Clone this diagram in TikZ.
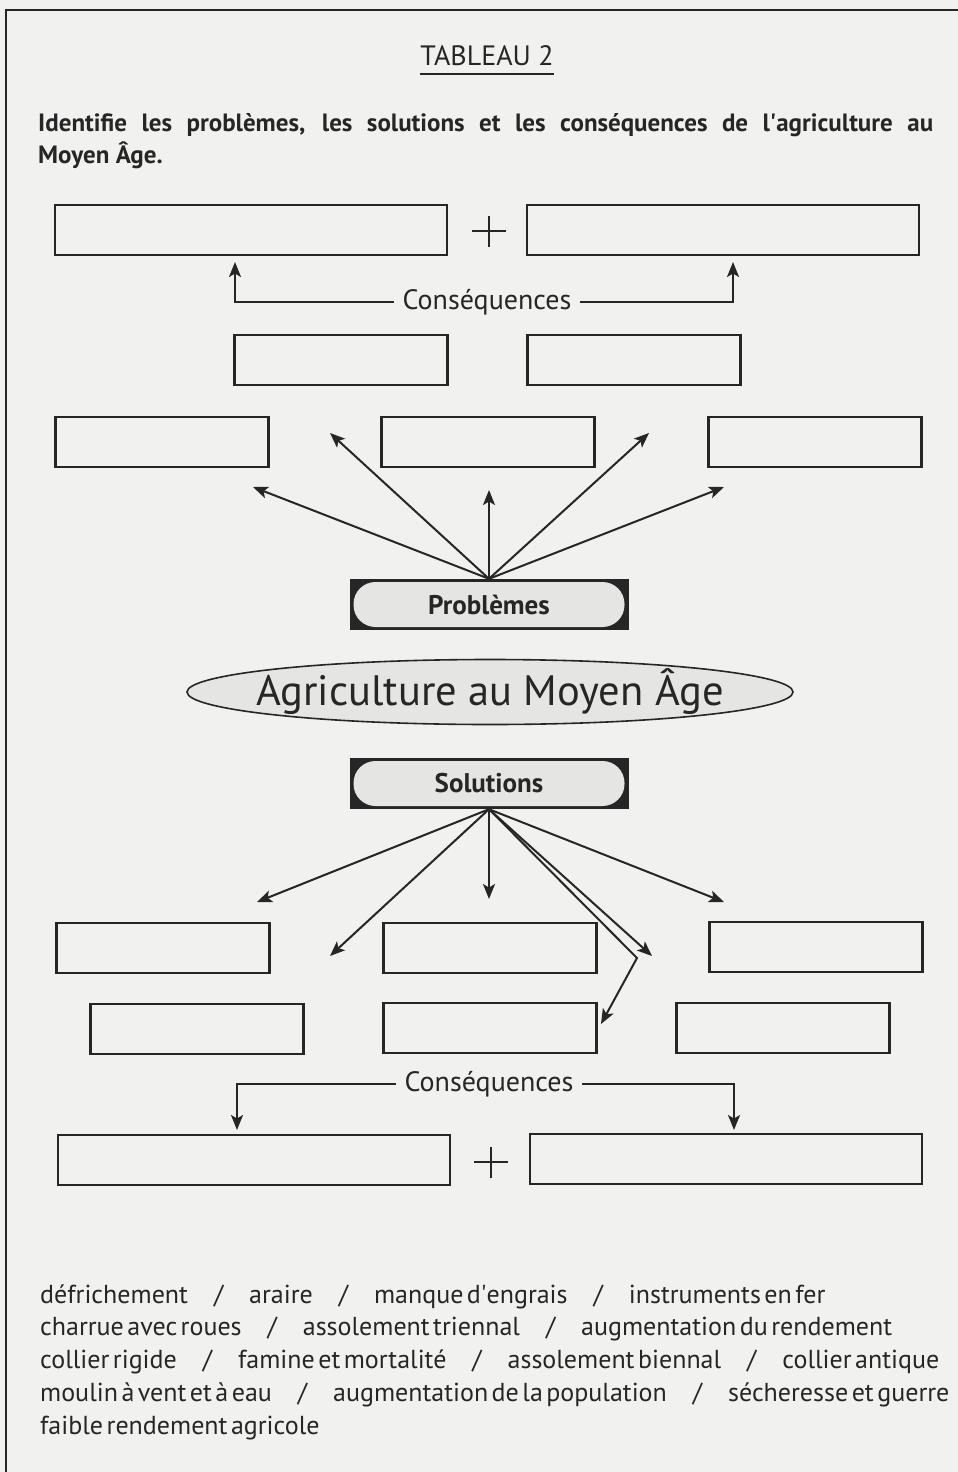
\documentclass[tikz,border=0pt]{standalone}
\usepackage{fontspec}
\setmainfont{PT Sans}
\usetikzlibrary{arrows.meta,shapes.geometric}
\definecolor{paper}{HTML}{F1F1EF}
\definecolor{ink}{HTML}{262626}
\definecolor{tagfill}{HTML}{E5E5E3}
\newcommand{\wsep}{\hspace{26pt}/\hspace{26pt}}
\newcommand{\fsz}[1]{\fontsize{#1}{#1}\selectfont}
\newcommand{\tightsp}{\spaceskip=3.5pt plus 1pt\relax}
\tikzset{
  answer/.style={draw=ink, line width=2.5pt, minimum height=50pt, inner sep=0pt},
  shortbox/.style={answer, minimum width=213pt},
  widebox/.style={answer, minimum width=392pt},
  pointer/.style={draw=ink, line width=2pt, -{Stealth[length=15pt,width=12pt,inset=3.5pt]}},
  tag/.style={fill=ink, minimum width=279pt, minimum height=51pt, text=ink, font=\bfseries\fsz{27},
    path picture={\fill[tagfill, rounded corners=22pt]
      ([shift={(4pt,-3pt)}]path picture bounding box.north west) rectangle
      ([shift={(-4pt,3pt)}]path picture bounding box.south east);}},
  heading/.style={font=\fsz{28}, text=ink, inner xsep=8pt},
  wordline/.style={anchor=base west, font=\fsz{26}, text=ink, inner sep=0pt},
}
\begin{document}
\begin{tikzpicture}[x=1pt,y=-1pt]
  \useasboundingbox (0,0) rectangle (958,1472);
  \fill[paper] (0,0) rectangle (958,1472);
  \draw[ink, line width=2.4pt] (958,10) -- (6,10) -- (6,1472);
  % titre et consigne
  \node[font=\fsz{28}, text=ink, anchor=base, inner sep=0pt] (tab) at (487,66) {TABLEAU 2};
  \draw[ink, line width=2.5pt] ([yshift=-8pt]tab.base west) -- ([yshift=-8pt]tab.base east);
  \node[anchor=base west, font=\bfseries\fsz{25}, text=ink, inner sep=0pt] (ask1) at (38,131)
    {\makebox[895pt][s]{Identifie les problèmes, les solutions et les conséquences de l\textquotesingle agriculture au}};
  \node[anchor=base west, font=\bfseries\fsz{25}, text=ink, inner sep=0pt] (ask2) at (38,163) {Moyen Âge.};
  % cases
  \foreach \n/\x/\y in {c1/251/230, c2/723/230, s1/254/1160, s2/726/1159}
    \node[widebox] (\n) at (\x,\y) {};
  \foreach \n/\x/\y in {c3/341/360, c4/634/360, p1/162/442, p2/488/442, p3/815/442,
                        r1/163/948, r2/490/948, r3/816/947, r4/197/1029, r5/490/1028, r6/783/1028}
    \node[shortbox] (\n) at (\x,\y) {};
  \draw[ink, line width=1.8pt] (489,216) -- (489,247) (472,231) -- (506,231);
  \draw[ink, line width=1.8pt] (491,1147) -- (491,1178) (474,1162) -- (508,1162);
  % consequences du haut
  \node[heading] (consT) at (487,302) {Conséquences};
  \coordinate (upA) at (235,262);
  \coordinate (upB) at (733,262);
  \draw[pointer] (consT.west) -| (upA);
  \draw[pointer] (consT.east) -| (upB);
  % problemes
  \node[tag] (prob) at (489,604.5) {Problèmes};
  \foreach \n/\x/\y in {pa/253/487, pb/330/433, pc/489/490, pd/649/433, pe/724/487} {
    \coordinate (\n) at (\x,\y);
    \draw[pointer] (prob.north) -- (\n);
  }
  \draw[ink, line width=1.6pt, fill=tagfill] (490,692) ellipse [x radius=303pt, y radius=32.5pt];
  \node[font=\fsz{42.5}, text=ink] (agri) at (490,692) {Agriculture au Moyen Âge};
  % solutions
  \node[tag] (sol) at (489,783.5) {Solutions};
  \foreach \n/\x/\y in {sa/257/902, sb/330/956, sc/489/899, sd/652/956, sf/724/902} {
    \coordinate (\n) at (\x,\y);
    \draw[pointer] (sol.south) -- (\n);
  }
  \coordinate (bend) at (637,958);
  \coordinate (se) at (601,1024);
  \draw[pointer] (sol.south) -- (bend) -- (se);
  % consequences du bas
  \node[heading] (consB) at (489,1084) {Conséquences};
  \coordinate (downA) at (237,1130);
  \coordinate (downB) at (734,1130);
  \draw[pointer] (consB.west) -| (downA);
  \draw[pointer] (consB.east) -| (downB);
  % liste de mots
  \foreach \t [count=\i] in {
      défrichement\wsep araire\wsep manque d\textquotesingle engrais\wsep instruments en fer,
      charrue avec roues\wsep assolement triennal\wsep augmentation du rendement,
      collier rigide\wsep famine et mortalité\wsep assolement biennal\wsep collier antique,
      moulin à vent et à eau\wsep augmentation de la population\wsep sécheresse et guerre,
      faible rendement agricole}
    \node[wordline] (w\i) at (40,1270.25+32.75*\i) {\tightsp\t};
\end{tikzpicture}
\end{document}
